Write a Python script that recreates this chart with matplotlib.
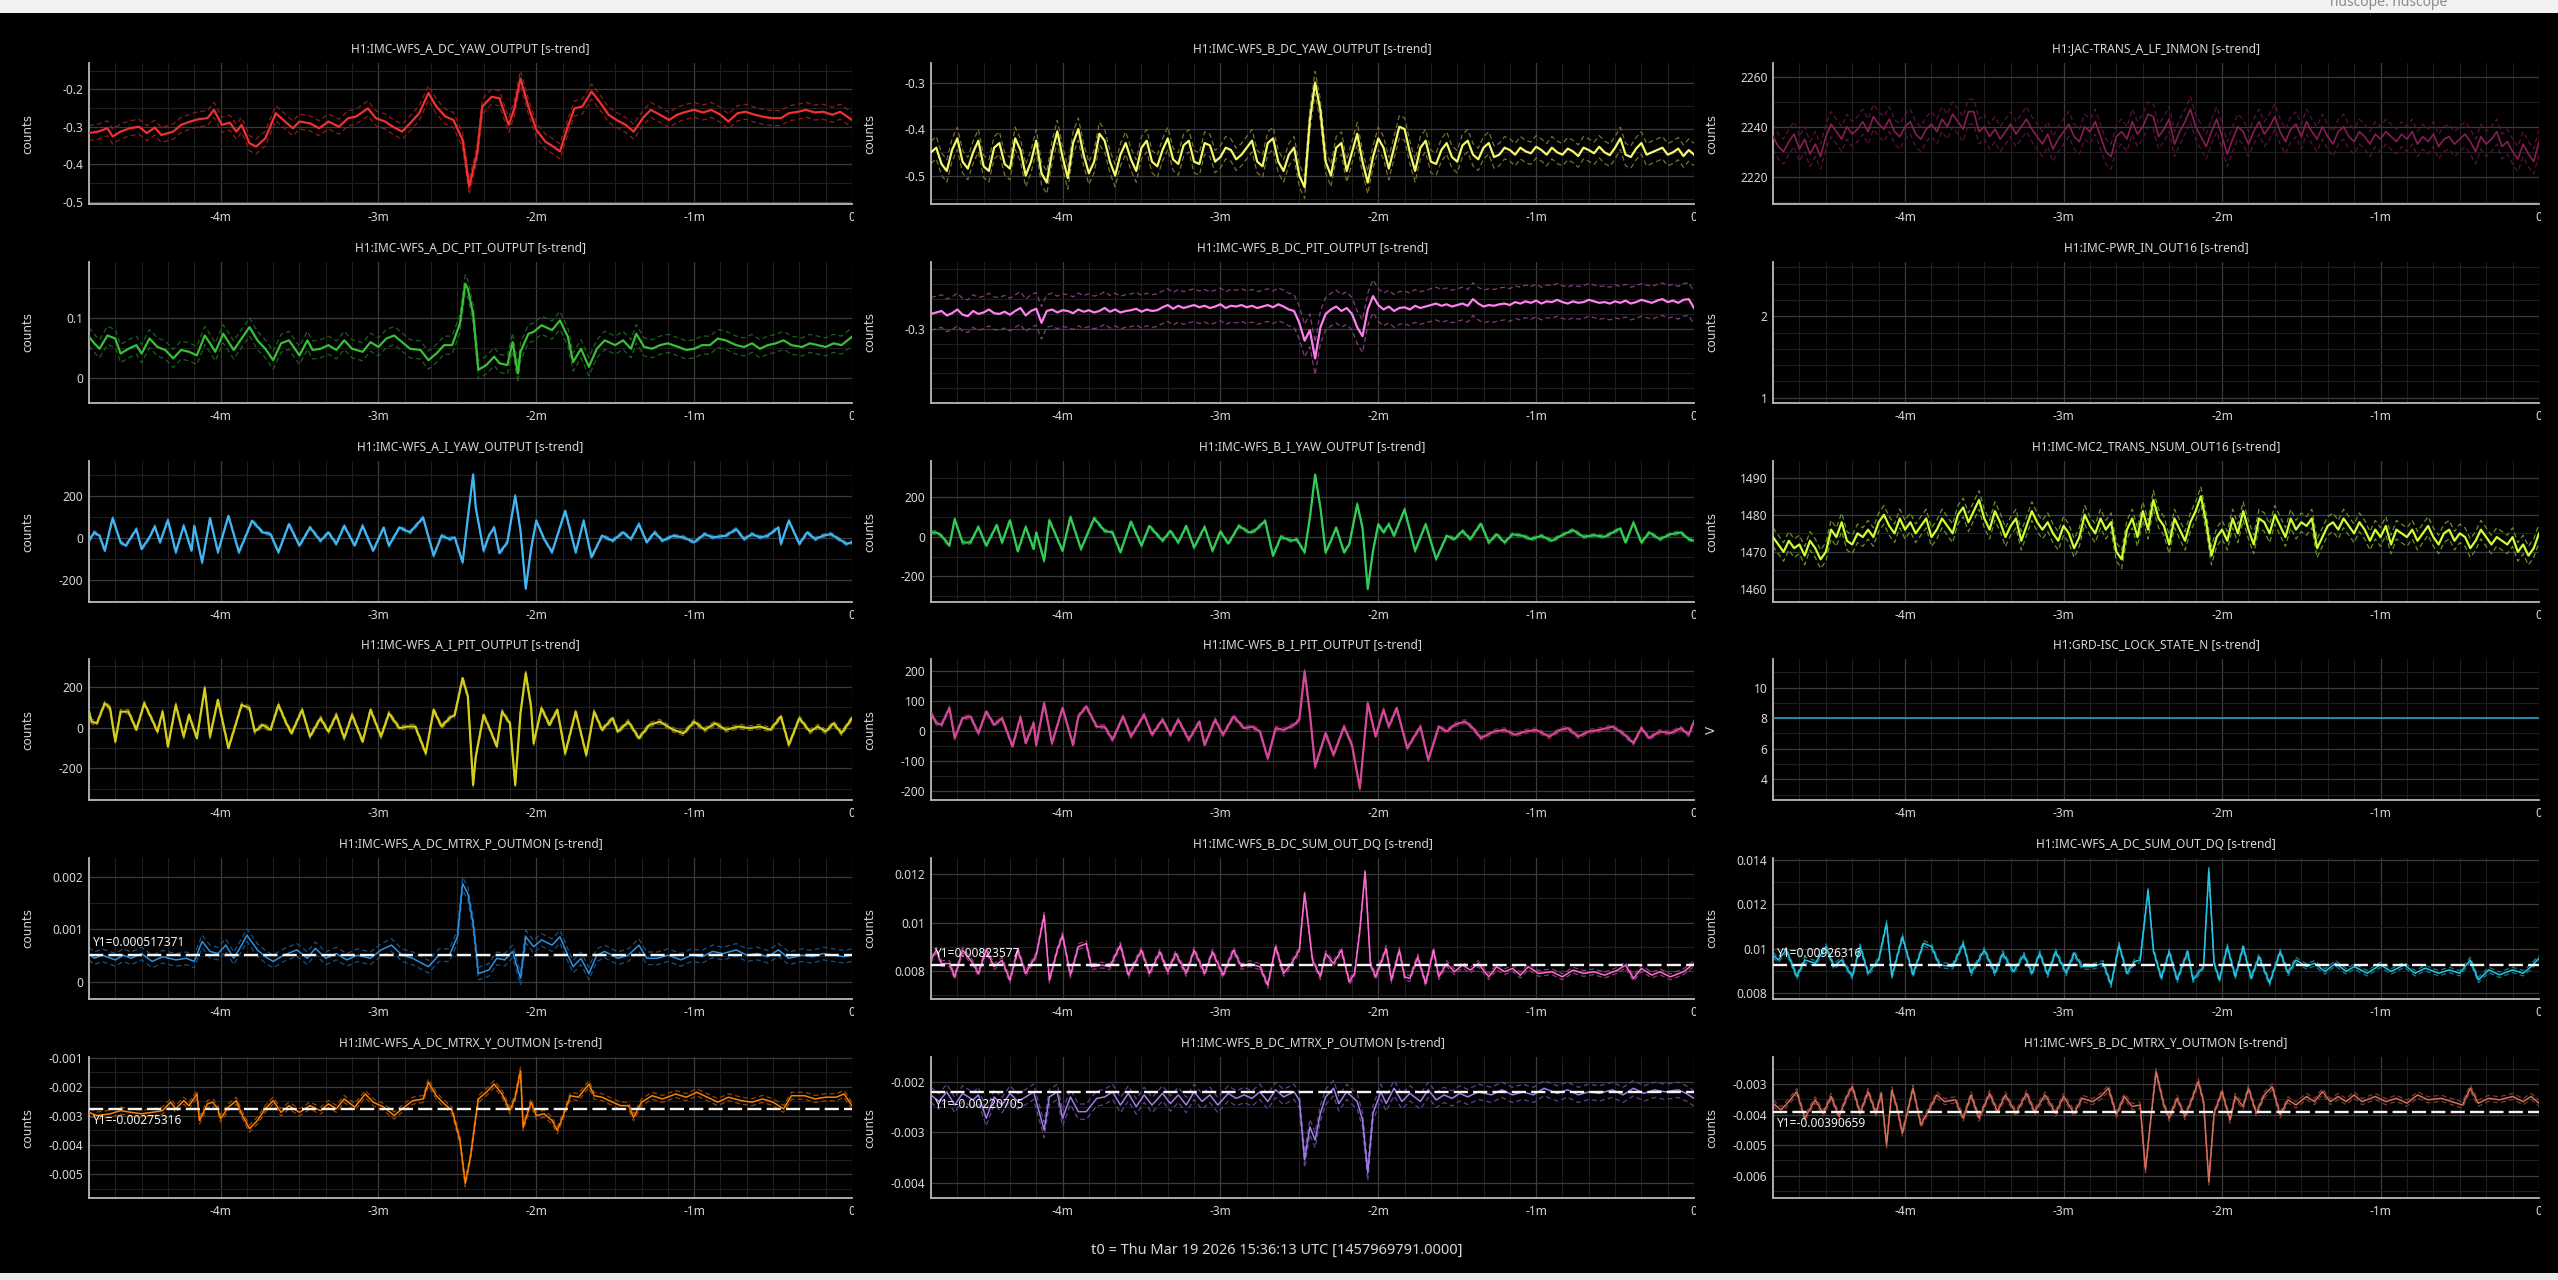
import numpy as np
import matplotlib
matplotlib.use("Agg")
import matplotlib.pyplot as plt
from matplotlib.ticker import MultipleLocator, FuncFormatter
from matplotlib.transforms import Bbox, TransformedBbox
from matplotlib.patches import Rectangle

plt.rcParams['font.family'] = ['Noto Sans', 'DejaVu Sans']

# ------------------------------------------------------------------ data
T_START, T_END = -290.0, 0.0
x_tick_values = [-240, -180, -120, -60, 0]
x_tick_labels = ['-4m', '-3m', '-2m', '-1m', '0']
t0_text = 't0 = Thu Mar 19 2026 15:36:13 UTC [1457969791.0000]'

# (time [s], value) samples, values in scaled units
a_dc_yaw = [(-290,-317),(-286.5,-313),(-283,-304),(-281,-326),(-278,-313),(-274.5,-304),(-271,-300),(-268,-317),(-265,-302),(-262.5,-322),(-258,-313),(-255,-295),(-251.5,-286),(-248.5,-280),(-245,-277),(-242.5,-255),(-239.5,-295),(-236.5,-289),(-234,-313),(-232,-295),(-229,-344),(-226.5,-353),(-223,-331),(-219,-264),(-215.5,-286),(-212.5,-304),(-210,-286),(-206,-291),(-202.5,-304),(-199,-286),(-195,-300),(-191.5,-277),(-188.5,-273),(-184,-251),(-181,-277),(-177.5,-286),(-174.5,-300),(-171,-313),(-168,-291),(-164.5,-264),(-161,-210),(-158,-246),(-154.5,-273),(-151.5,-282),(-148,-335),(-145.5,-460),(-142.5,-371),(-140.5,-246),(-137,-220),(-134,-224),(-130.5,-295),(-128.5,-255),(-126,-171),(-123,-246),(-120,-308),(-116.5,-340),(-113.5,-353),(-111,-366),(-108,-300),(-105.5,-251),(-102.5,-246),(-99,-206),(-96,-233),(-92.5,-268),(-89.5,-282),(-86,-295),(-83,-313),(-79.5,-277),(-76.5,-255),(-73,-268),(-69.5,-282),(-66.5,-268),(-63,-260),(-60,-255),(-56.5,-262),(-53.5,-255),(-50,-268),(-47,-286),(-43.5,-264),(-40.5,-260),(-37,-268),(-34,-273),(-30.5,-277),(-27,-277),(-24,-264),(-20.5,-260),(-17.5,-255),(-14,-262),(-11,-260),(-7.5,-268),(-4.5,-260),(0,-282)]

b_dc_yaw = [-450,-440,-475,-490,-445,-420,-470,-485,-450,-425,
            -480,-490,-440,-430,-475,-485,-420,-445,-500,-470,
            -425,-495,-515,-450,-405,-460,-505,-430,-400,-455,
            -495,-470,-410,-425,-470,-500,-455,-430,-465,-490,
            -440,-425,-470,-480,-445,-420,-465,-475,-435,-425,
            -470,-475,-430,-435,-470,-460,-440,-445,-465,-455,
            -440,-425,-470,-480,-430,-420,-470,-490,-455,-440,
            -500,-525,-380,-300,-360,-470,-500,-440,-430,-490,
            -450,-410,-470,-515,-460,-420,-440,-485,-440,-395,
            -400,-450,-490,-440,-425,-470,-475,-445,-430,-460,
            -470,-435,-425,-455,-465,-440,-430,-460,-455,-440,
            -445,-455,-440,-448,-452,-438,-445,-455,-440,-450,
            -455,-442,-448,-458,-440,-445,-452,-438,-450,-456,
            -440,-420,-455,-460,-442,-430,-455,-450,-445,-440,
            -455,-450,-442,-458,-445,-455]

jac_trans = [2236,2232,2230,2234,2237,2231,2235,2229,2233,2228,
             2236,2241,2238,2235,2240,2237,2239,2242,2238,2244,
             2241,2239,2243,2238,2236,2240,2242,2237,2235,2239,
             2241,2238,2243,2240,2245,2242,2239,2246,2246,2238,
             2240,2236,2239,2235,2238,2241,2237,2240,2243,2239,
             2236,2233,2237,2231,2235,2238,2241,2236,2234,2240,
             2238,2242,2236,2230,2228,2236,2238,2235,2242,2237,
             2240,2245,2244,2236,2239,2243,2233,2238,2242,2247,
             2240,2236,2232,2238,2243,2236,2229,2235,2240,2238,
             2233,2238,2242,2237,2240,2244,2238,2234,2239,2241,
             2236,2242,2238,2235,2240,2236,2233,2238,2240,2236,
             2234,2238,2236,2233,2237,2235,2238,2236,2234,2237,
             2235,2238,2233,2236,2234,2237,2232,2235,2236,2233,
             2235,2237,2234,2230,2236,2233,2235,2238,2232,2234,
             2230,2227,2233,2229,2226,2234]

a_dc_pit = [(-290,69),(-288,58),(-286,49),(-283,71),(-280,66),(-278,41),(-275,49),(-272,55),(-270,41),(-267,66),(-264,52),(-261,47),(-258,33),(-255,47),(-252,44),(-249,38),(-246,71),(-244,58),(-242,44),(-239,74),(-235,47),(-232,66),(-229,85),(-226,63),(-223,49),(-220,30),(-217,58),(-214,63),(-210,38),(-207,63),(-205,47),(-202,49),(-199,55),(-196,47),(-193,63),(-190,49),(-186,44),(-183,60),(-180,52),(-177,66),(-174,71),(-171,60),(-168,49),(-164,47),(-161,30),(-158,41),(-155,55),(-152,55),(-149,91),(-147,157),(-146,148),(-144,107),(-142,14),(-139,22),(-136,36),(-134,25),(-131,22),(-129,60),(-127,8),(-126,44),(-123,74),(-121,77),(-118,88),(-114,80),(-111,96),(-108,69),(-106,27),(-103,49),(-100,19),(-97,49),(-94,63),(-90,55),(-87,63),(-84,49),(-82,74),(-79,52),(-76,49),(-73,55),(-70,58),(-66,52),(-63,47),(-60,49),(-57,55),(-54,55),(-51,66),(-48,63),(-44,55),(-41,52),(-38,58),(-35,49),(-32,55),(-29,58),(-26,63),(-23,55),(-19,52),(-16,58),(-13,55),(-10,52),(-7,58),(-4,55),(0,69)]

b_dc_pit = [-2900,-2890,-2880,-2910,-2895,-2870,-2905,-2915,-2880,-2900,
            -2890,-2870,-2895,-2900,-2885,-2905,-2880,-2860,-2910,-2880,
            -2865,-2960,-2880,-2870,-2890,-2875,-2880,-2895,-2870,-2885,
            -2875,-2890,-2880,-2860,-2885,-2870,-2890,-2880,-2875,-2865,
            -2885,-2870,-2880,-2875,-2855,-2840,-2865,-2845,-2860,-2850,
            -2840,-2855,-2845,-2860,-2850,-2835,-2860,-2845,-2850,-2840,
            -2855,-2845,-2860,-2850,-2840,-2855,-2835,-2850,-2870,-2880,
            -2960,-3080,-3010,-3200,-2990,-2900,-2870,-2850,-2880,-2860,
            -2900,-2990,-3050,-2870,-2780,-2840,-2870,-2850,-2880,-2860,
            -2855,-2870,-2845,-2860,-2850,-2840,-2830,-2845,-2835,-2850,
            -2840,-2830,-2845,-2800,-2830,-2850,-2840,-2845,-2835,-2830,
            -2840,-2820,-2830,-2815,-2825,-2810,-2830,-2815,-2820,-2805,
            -2820,-2830,-2815,-2825,-2820,-2805,-2815,-2825,-2820,-2830,
            -2815,-2825,-2810,-2830,-2820,-2805,-2815,-2825,-2810,-2800,
            -2820,-2810,-2825,-2805,-2800,-2860]

a_i_yaw = [(-290,-13),(-288,27),(-286,11),(-284,-60),(-281,94),(-278,-20),(-276,-36),(-272,42),(-270,-52),(-267,3),(-265,55),(-263,-20),(-260,85),(-257,-67),(-254,58),(-251,-60),(-250,58),(-247,-115),(-244,94),(-241,-67),(-237,105),(-233,-67),(-228,82),(-224,27),(-221,19),(-218,-67),(-214,66),(-210,-36),(-206,50),(-202,-13),(-199,27),(-196,-28),(-193,58),(-189,-36),(-186,58),(-182,-60),(-178,50),(-176,-36),(-172,50),(-168,27),(-163,97),(-159,-83),(-156,11),(-153,-5),(-151,3),(-148,-115),(-146,97),(-144,301),(-143,144),(-140,-60),(-138,11),(-136,50),(-134,-72),(-131,-20),(-128,199),(-126,35),(-124,-240),(-122,-52),(-120,82),(-117,-5),(-114,-67),(-109,129),(-105,-67),(-102,82),(-99,-91),(-95,11),(-91,-13),(-87,27),(-84,-5),(-81,66),(-78,-20),(-75,27),(-72,-13),(-68,11),(-64,3),(-60,-20),(-56,19),(-53,3),(-48,11),(-44,42),(-41,-5),(-38,19),(-35,3),(-32,11),(-28,50),(-27,-28),(-24,82),(-20,-28),(-17,27),(-14,-5),(-11,11),(-8,19),(-5,-5),(-2,-28),(0,-20)]

b_i_yaw = [(-290,22),(-288,22),(-286,5),(-283,-45),(-281,89),(-278,-29),(-275,-29),(-272,50),(-269,-45),(-265,60),(-263,-29),(-260,84),(-257,-74),(-254,50),(-251,-62),(-250,22),(-247,-121),(-245,84),(-240,-71),(-237,101),(-233,-62),(-228,94),(-224,30),(-221,22),(-218,-79),(-214,77),(-210,-45),(-207,55),(-202,-20),(-199,30),(-196,-29),(-193,55),(-190,-54),(-186,50),(-183,-71),(-180,27),(-177,-34),(-173,55),(-169,22),(-167,30),(-163,81),(-160,-96),(-157,0),(-153,-20),(-151,-12),(-148,-79),(-146,97),(-144,316),(-142,148),(-140,-79),(-138,-20),(-136,47),(-133,-79),(-131,-37),(-128,165),(-126,47),(-124,-264),(-122,-71),(-120,64),(-118,22),(-116,64),(-114,5),(-110,139),(-106,-71),(-102,64),(-98,-113),(-94,5),(-91,-12),(-88,30),(-85,-12),(-81,67),(-78,-29),(-75,13),(-72,-29),(-69,13),(-65,5),(-62,-12),(-58,5),(-54,-20),(-50,10),(-46,34),(-42,0),(-38,8),(-34,0),(-28,42),(-26,-29),(-23,72),(-20,-29),(-17,22),(-13,-12),(-9,13),(-5,22),(-2,-12),(0,-20)]

pwr_in = []

mc2_trans = [1474,1472,1470,1473,1471,1472,1469,1473,1471,1468,
             1470,1476,1474,1478,1473,1472,1475,1474,1476,1474,
             1478,1480,1477,1475,1479,1476,1478,1475,1477,1479,
             1474,1476,1479,1477,1475,1480,1482,1478,1481,1484,
             1479,1476,1481,1478,1474,1477,1479,1473,1477,1481,
             1478,1476,1478,1475,1473,1477,1475,1471,1474,1480,
             1477,1475,1479,1476,1478,1470,1468,1476,1479,1474,
             1481,1476,1484,1479,1477,1472,1479,1476,1473,1478,
             1481,1485,1478,1469,1474,1476,1473,1479,1475,1481,
             1476,1472,1479,1478,1475,1480,1477,1474,1479,1476,
             1478,1477,1479,1471,1474,1477,1478,1476,1479,1477,
             1475,1478,1476,1473,1476,1474,1477,1472,1476,1475,
             1474,1476,1473,1475,1477,1474,1472,1475,1476,1473,
             1475,1474,1471,1473,1476,1474,1472,1474,1473,1472,
             1474,1470,1472,1469,1471,1475]

a_i_pit = [(-290,78),(-289,29),(-287,21),(-284,119),(-282,95),(-280,-69),(-278,78),(-275,78),(-272,-11),(-269,119),(-266,38),(-264,-20),(-262,78),(-260,-93),(-257,111),(-254,-44),(-252,62),(-249,-52),(-246,193),(-244,-44),(-241,136),(-237,-101),(-232,111),(-229,95),(-227,-20),(-224,13),(-221,-11),(-218,111),(-215,21),(-213,-28),(-209,87),(-206,-44),(-202,46),(-199,-20),(-196,62),(-193,-52),(-190,62),(-186,-69),(-183,87),(-179,-44),(-176,70),(-172,-3),(-169,5),(-166,5),(-162,-126),(-159,87),(-156,5),(-153,46),(-151,62),(-148,242),(-146,152),(-144,-281),(-143,-142),(-140,62),(-137,-28),(-135,-93),(-133,78),(-130,21),(-128,-281),(-126,70),(-124,266),(-122,103),(-121,-77),(-118,95),(-115,13),(-112,87),(-109,-126),(-105,78),(-101,-134),(-98,78),(-95,-11),(-91,46),(-89,-20),(-85,29),(-81,-52),(-77,13),(-73,29),(-68,-11),(-64,-28),(-60,29),(-56,-11),(-52,21),(-48,-11),(-43,5),(-39,-3),(-35,5),(-31,-11),(-27,54),(-24,-85),(-20,46),(-16,-20),(-13,5),(-10,-20),(-7,21),(-4,-28),(0,46)]

b_i_pit = [(-290,59),(-288,26),(-286,20),(-283,76),(-281,-24),(-278,42),(-275,48),(-272,-8),(-269,64),(-266,20),(-263,42),(-259,-52),(-256,46),(-254,-41),(-251,26),(-250,-47),(-247,92),(-244,-41),(-240,76),(-236,-47),(-234,48),(-231,81),(-227,14),(-224,14),(-221,-30),(-217,48),(-214,-19),(-209,53),(-206,-13),(-202,37),(-199,-13),(-196,37),(-192,-30),(-188,31),(-186,-47),(-182,37),(-179,-13),(-175,48),(-171,9),(-168,14),(-165,-2),(-162,-91),(-159,9),(-156,3),(-152,20),(-150,37),(-148,198),(-146,59),(-144,-119),(-140,-8),(-137,-80),(-133,14),(-130,-47),(-127,-191),(-124,92),(-121,-19),(-118,70),(-116,14),(-113,76),(-109,-58),(-104,14),(-101,-97),(-97,14),(-94,-2),(-91,20),(-87,31),(-84,9),(-81,-24),(-76,-2),(-72,3),(-68,-13),(-64,-2),(-60,3),(-55,-19),(-51,3),(-48,9),(-44,-19),(-40,-2),(-36,3),(-31,14),(-27,-8),(-23,-41),(-20,9),(-17,-24),(-13,-2),(-9,-8),(-5,9),(-2,-13),(0,31)]

grd_lock_state = [(-290, 8), (0, 8)]

a_dc_mtrx_p = [(-290,54),(-288,45),(-285,51),(-280,42),(-277,51),(-274,45),(-270,54),(-266,39),(-262,48),(-257,42),(-253,45),(-250,39),(-247,77),(-244,58),(-241,54),(-238,70),(-235,45),(-232,70),(-230,89),(-226,61),(-223,48),(-220,39),(-216,51),(-211,61),(-207,45),(-204,64),(-200,45),(-196,54),(-192,42),(-188,51),(-183,45),(-179,61),(-175,70),(-171,51),(-167,45),(-161,29),(-157,51),(-153,51),(-150,86),(-148,187),(-146,168),(-144,111),(-142,16),(-138,23),(-135,45),(-132,42),(-129,58),(-126,7),(-124,86),(-121,67),(-118,80),(-114,70),(-111,86),(-108,51),(-106,29),(-103,45),(-100,16),(-97,51),(-94,58),(-89,45),(-85,51),(-81,70),(-78,45),(-74,45),(-70,51),(-65,42),(-61,51),(-57,48),(-53,58),(-49,54),(-44,61),(-40,51),(-36,54),(-32,48),(-28,61),(-24,45),(-19,51),(-15,48),(-11,54),(-7,51),(-3,48),(0,51)]

b_dc_sum = [(-290,844),(-288,886),(-286,830),(-283,830),(-281,775),(-278,886),(-274,830),(-272,789),(-269,886),(-266,817),(-263,844),(-260,761),(-257,886),(-254,789),(-250,865),(-247,1031),(-245,761),(-242,886),(-240,948),(-237,782),(-234,900),(-231,913),(-229,817),(-225,824),(-222,817),(-218,907),(-215,782),(-210,886),(-207,789),(-203,879),(-200,796),(-197,872),(-193,789),(-190,886),(-186,789),(-183,879),(-179,782),(-175,886),(-172,817),(-169,830),(-165,817),(-162,740),(-159,900),(-156,789),(-153,830),(-150,886),(-148,1121),(-145,844),(-142,775),(-140,872),(-137,830),(-134,886),(-131,754),(-129,789),(-127,969),(-125,1211),(-123,830),(-121,775),(-117,893),(-115,761),(-112,886),(-110,775),(-108,768),(-105,858),(-102,747),(-99,886),(-97,775),(-94,830),(-91,796),(-88,824),(-85,803),(-82,830),(-78,775),(-75,817),(-72,796),(-69,810),(-66,782),(-63,817),(-59,789),(-54,796),(-50,775),(-46,803),(-42,789),(-38,796),(-34,782),(-29,803),(-26,824),(-23,768),(-20,810),(-16,782),(-13,796),(-9,775),(-4,796),(0,830)]

a_dc_sum = [(-290,973),(-288,950),(-285,995),(-281,875),(-278,950),(-274,935),(-270,1010),(-267,920),(-264,950),(-260,875),(-257,1010),(-254,890),(-250,950),(-247,1115),(-245,875),(-241,1055),(-237,883),(-233,1025),(-230,1010),(-227,928),(-222,920),(-218,1025),(-215,890),(-210,995),(-206,890),(-203,980),(-199,898),(-195,973),(-192,890),(-189,980),(-186,883),(-183,988),(-179,890),(-176,980),(-173,920),(-169,920),(-165,935),(-162,838),(-159,1018),(-156,890),(-153,943),(-151,950),(-148,1265),(-146,995),(-143,868),(-140,988),(-137,860),(-133,988),(-131,860),(-127,920),(-125,1355),(-123,935),(-121,860),(-118,1010),(-115,875),(-112,1010),(-109,868),(-106,965),(-102,845),(-98,988),(-95,890),(-92,950),(-88,920),(-85,935),(-81,898),(-77,935),(-73,898),(-70,920),(-65,890),(-60,928),(-56,898),(-51,928),(-47,890),(-43,913),(-38,890),(-34,905),(-30,890),(-26,950),(-23,860),(-19,905),(-15,883),(-10,905),(-6,890),(-3,920),(0,958)]

a_dc_mtrx_y = [(-290,-288),(-287,-299),(-282,-293),(-278,-282),(-274,-288),(-270,-293),(-266,-288),(-262,-282),(-259,-253),(-257,-276),(-254,-248),(-252,-265),(-249,-225),(-248,-316),(-245,-259),(-243,-253),(-241,-276),(-240,-310),(-237,-270),(-234,-248),(-232,-293),(-229,-344),(-226,-316),(-223,-276),(-220,-248),(-217,-288),(-214,-265),(-210,-288),(-206,-265),(-202,-282),(-199,-259),(-196,-276),(-193,-242),(-189,-270),(-185,-225),(-182,-253),(-178,-270),(-174,-299),(-171,-276),(-167,-248),(-163,-242),(-161,-185),(-158,-231),(-155,-259),(-152,-282),(-149,-384),(-147,-532),(-145,-441),(-143,-305),(-142,-242),(-139,-219),(-136,-191),(-133,-225),(-130,-282),(-128,-236),(-126,-145),(-125,-339),(-122,-253),(-120,-299),(-117,-293),(-114,-316),(-112,-350),(-110,-305),(-107,-231),(-104,-236),(-100,-191),(-98,-231),(-95,-236),(-91,-253),(-88,-265),(-85,-265),(-83,-305),(-80,-253),(-76,-231),(-72,-242),(-67,-225),(-63,-236),(-59,-219),(-55,-236),(-51,-253),(-47,-236),(-42,-248),(-38,-253),(-34,-242),(-30,-253),(-26,-276),(-23,-231),(-18,-231),(-14,-242),(-10,-236),(-6,-236),(-3,-225),(0,-265)]

b_dc_mtrx_p = [(-290,-226),(-287,-239),(-284,-220),(-281,-246),(-278,-223),(-274,-236),(-272,-226),(-269,-272),(-266,-230),(-263,-246),(-260,-223),(-257,-239),(-254,-230),(-251,-220),(-247,-295),(-245,-230),(-242,-220),(-240,-272),(-237,-230),(-234,-259),(-231,-259),(-227,-233),(-224,-230),(-221,-220),(-218,-246),(-215,-223),(-212,-249),(-209,-226),(-206,-246),(-202,-223),(-199,-243),(-196,-226),(-193,-246),(-190,-220),(-187,-239),(-184,-226),(-181,-246),(-177,-223),(-174,-233),(-171,-226),(-168,-233),(-165,-220),(-162,-239),(-159,-216),(-156,-230),(-152,-220),(-150,-236),(-148,-354),(-146,-289),(-144,-315),(-142,-262),(-140,-230),(-137,-213),(-135,-243),(-132,-220),(-128,-239),(-126,-275),(-124,-380),(-122,-262),(-119,-220),(-117,-243),(-114,-213),(-111,-239),(-108,-223),(-104,-239),(-101,-216),(-98,-236),(-95,-226),(-92,-233),(-89,-223),(-86,-230),(-82,-220),(-77,-226),(-73,-216),(-69,-226),(-65,-220),(-61,-226),(-57,-213),(-52,-223),(-48,-216),(-44,-226),(-40,-220),(-36,-223),(-31,-216),(-27,-226),(-23,-213),(-19,-223),(-15,-216),(-11,-220),(-6,-216),(-3,-223),(0,-233)]

b_dc_mtrx_y = [(-290,-363),(-287,-385),(-284,-358),(-281,-325),(-278,-412),(-274,-352),(-271,-396),(-268,-341),(-265,-407),(-262,-341),(-260,-309),(-257,-396),(-254,-325),(-251,-396),(-249,-331),(-247,-500),(-245,-320),(-243,-380),(-241,-461),(-237,-314),(-234,-434),(-231,-385),(-228,-336),(-225,-358),(-221,-352),(-218,-412),(-215,-336),(-212,-412),(-208,-331),(-205,-391),(-202,-336),(-198,-396),(-194,-331),(-191,-391),(-187,-336),(-183,-396),(-180,-341),(-176,-396),(-173,-347),(-169,-358),(-166,-341),(-163,-314),(-160,-401),(-157,-341),(-154,-374),(-151,-369),(-149,-581),(-147,-418),(-145,-260),(-142,-369),(-140,-412),(-137,-347),(-134,-407),(-131,-341),(-129,-292),(-127,-358),(-125,-620),(-123,-396),(-120,-325),(-117,-418),(-115,-341),(-112,-374),(-110,-314),(-107,-396),(-104,-336),(-101,-309),(-98,-401),(-95,-352),(-92,-369),(-88,-341),(-85,-358),(-82,-325),(-79,-358),(-76,-341),(-73,-358),(-70,-336),(-67,-358),(-62,-341),(-58,-358),(-54,-347),(-50,-363),(-46,-336),(-42,-352),(-37,-347),(-33,-358),(-29,-369),(-26,-314),(-23,-363),(-19,-347),(-15,-352),(-10,-341),(-6,-358),(-3,-341),(0,-363)]

# cursor (Y1) values
y1_a_dc_mtrx_p = 0.000517371
y1_b_dc_sum = 0.00823577
y1_a_dc_sum = 0.00926316
y1_a_dc_mtrx_y = -0.00275316
y1_b_dc_mtrx_p = -0.00220705
y1_b_dc_mtrx_y = -0.00390659

# ------------------------------------------------------------------ panel setup
panels = [
    # row 1
    dict(title='H1:IMC-WFS_A_DC_YAW_OUTPUT [s-trend]', data=a_dc_yaw, scale=1e-3, spread=0.02,
         color='#f23030', band='#8c1c1c', ylim=(-0.506, -0.13), major=0.1, minor=0.05),
    dict(title='H1:IMC-WFS_B_DC_YAW_OUTPUT [s-trend]', data=b_dc_yaw, scale=1e-3, spread=0.024,
         color='#f4f86a', band='#6f7230', ylim=(-0.561, -0.258), major=0.1, minor=0.05),
    dict(title='H1:JAC-TRANS_A_LF_INMON [s-trend]', data=jac_trans, scale=1, spread=5,
         color='#8a1d55', band='#5a1236', ylim=(2209, 2265.5), major=20, minor=10, lw=1.2),
    # row 2
    dict(title='H1:IMC-WFS_A_DC_PIT_OUTPUT [s-trend]', data=a_dc_pit, scale=1e-3, spread=0.015,
         color='#38c038', band='#1d5f1d', ylim=(-0.041, 0.193), major=0.1, minor=0.05),
    dict(title='H1:IMC-WFS_B_DC_PIT_OUTPUT [s-trend]', data=b_dc_pit, scale=1e-4, spread=0.011,
         color='#ff80ee', band='#7c3f7a', ylim=(-0.35, -0.255), major=0.1, minor=0.01),
    dict(title='H1:IMC-PWR_IN_OUT16 [s-trend]', data=pwr_in, scale=1, spread=0,
         color='#ffffff', band='#ffffff', ylim=(0.935, 2.667), major=1, minor=0.2),
    # row 3
    dict(title='H1:IMC-WFS_A_I_YAW_OUTPUT [s-trend]', data=a_i_yaw, scale=1, spread=8,
         color='#42b6f2', band='#1f5f85', ylim=(-303, 365), major=200, minor=100),
    dict(title='H1:IMC-WFS_B_I_YAW_OUTPUT [s-trend]', data=b_i_yaw, scale=1, spread=9,
         color='#34cc58', band='#1b6a2e', ylim=(-331, 385), major=200, minor=100),
    dict(title='H1:IMC-MC2_TRANS_NSUM_OUT16 [s-trend]', data=mc2_trans, scale=1, spread=2.5,
         color='#ccff33', band='#67902a', ylim=(1456.5, 1494.5), major=10, minor=5),
    # row 4
    dict(title='H1:IMC-WFS_A_I_PIT_OUTPUT [s-trend]', data=a_i_pit, scale=1, spread=11,
         color='#d6ce1c', band='#6e6a12', ylim=(-355, 336), major=200, minor=100),
    dict(title='H1:IMC-WFS_B_I_PIT_OUTPUT [s-trend]', data=b_i_pit, scale=1, spread=7,
         color='#d44898', band='#70264f', ylim=(-230, 239), major=100, minor=50),
    dict(title='H1:GRD-ISC_LOCK_STATE_N [s-trend]', data=grd_lock_state, scale=1, spread=0,
         color='#2a9cc0', band='#2a9cc0', ylim=(2.64, 11.88), major=2, minor=1, ylabel='V', lw=1.2),
    # row 5
    dict(title='H1:IMC-WFS_A_DC_MTRX_P_OUTMON [s-trend]', data=a_dc_mtrx_p, scale=1e-5, spread=0.00012,
         color='#2a92e2', band='#1a5082', ylim=(-0.000323, 0.002355), major=0.001, minor=0.0005,
         lw=1.1, y1=y1_a_dc_mtrx_p, y1_text='Y1=0.000517371', y1_above=True),
    dict(title='H1:IMC-WFS_B_DC_SUM_OUT_DQ [s-trend]', data=b_dc_sum, scale=1e-5, spread=0.00012,
         color='#ff6ad2', band='#8a3a74', ylim=(0.00683, 0.01268), major=0.002, minor=0.001,
         lw=1.1, y1=y1_b_dc_sum, y1_text='Y1=0.00823577', y1_above=True),
    dict(title='H1:IMC-WFS_A_DC_SUM_OUT_DQ [s-trend]', data=a_dc_sum, scale=1e-5, spread=0.00012,
         color='#22c6e8', band='#177a8e', ylim=(0.00774, 0.01409), major=0.002, minor=0.001,
         lw=1.1, y1=y1_a_dc_sum, y1_text='Y1=0.00926316', y1_above=True),
    # row 6
    dict(title='H1:IMC-WFS_A_DC_MTRX_Y_OUTMON [s-trend]', data=a_dc_mtrx_y, scale=1e-5, spread=0.00012,
         color='#ff8000', band='#8a4810', ylim=(-0.00582, -0.00098), major=0.001, minor=0.0005,
         lw=1.1, y1=y1_a_dc_mtrx_y, y1_text='Y1=-0.00275316', y1_above=False),
    dict(title='H1:IMC-WFS_B_DC_MTRX_P_OUTMON [s-trend]', data=b_dc_mtrx_p, scale=1e-5, spread=0.00015,
         color='#a47ce8', band='#574590', ylim=(-0.00429, -0.001514), major=0.001, minor=0.0005,
         lw=1.1, y1=y1_b_dc_mtrx_p, y1_text='Y1=-0.00220705', y1_above=False),
    dict(title='H1:IMC-WFS_B_DC_MTRX_Y_OUTMON [s-trend]', data=b_dc_mtrx_y, scale=1e-5, spread=0.0001,
         color='#d2705c', band='#7c3a30', ylim=(-0.00673, -0.00212), major=0.001, minor=0.0005,
         lw=1.1, y1=y1_b_dc_mtrx_y, y1_text='Y1=-0.00390659', y1_above=False),
]

# ------------------------------------------------------------------ layout
W, H = 2558, 1280
col_left_px = [89, 931, 1773]
col_width_px = [763, 763, 766]
row_bottom_px = [204, 403, 602, 800, 999, 1198]
ax_h_px = 141

fig = plt.figure(figsize=(W / 100, H / 100), dpi=100, facecolor='black')

TXT = '#d8d8d8'
FS = 8.6


def yfmt(v, pos):
    if abs(v) < 1e-12:
        return '0'
    return '{:g}'.format(round(v, 10))


for k, p in enumerate(panels):
    r, c = divmod(k, 3)
    left = col_left_px[c] / W
    bottom = 1 - row_bottom_px[r] / H
    ax = fig.add_axes([left, bottom, col_width_px[c] / W, ax_h_px / H])
    ax.set_facecolor('black')
    lw = p.get('lw', 1.6)

    d = p['data']
    if len(d) > 0:
        if isinstance(d[0], tuple):
            t = np.array([q[0] for q in d], float)
            v = np.array([q[1] for q in d], float) * p['scale']
        else:
            v = np.array(d, float) * p['scale']
            t = np.linspace(T_START, T_END, len(v))
        if p['spread'] > 0:
            ax.plot(t, v + p['spread'], color=p['band'], lw=0.9, dashes=(4, 2.5), zorder=2)
            ax.plot(t, v - p['spread'], color=p['band'], lw=0.9, dashes=(4, 2.5), zorder=2)
        ax.plot(t, v, color=p['color'], lw=lw, zorder=3, solid_joinstyle='round')

    if 'y1' in p:
        ax.axhline(p['y1'], color='#f4f4f4', lw=1.7, dashes=(6, 2.2), zorder=4)
        off = 4 if p['y1_above'] else -4
        ax.annotate(p['y1_text'], xy=(0, p['y1']), xycoords=('axes fraction', 'data'),
                    xytext=(3, off), textcoords='offset points', color='#f4f4f4',
                    fontsize=FS, va='bottom' if p['y1_above'] else 'top', ha='left', zorder=5)

    ax.set_xlim(T_START, T_END)
    ax.set_ylim(*p['ylim'])
    ax.set_xticks(x_tick_values)
    ax.set_xticklabels(x_tick_labels[:-1] + [''])
    ax.xaxis.set_minor_locator(MultipleLocator(10))
    ax.yaxis.set_major_locator(MultipleLocator(p['major']))
    ax.yaxis.set_minor_locator(MultipleLocator(p['minor']))
    ax.yaxis.set_major_formatter(FuncFormatter(yfmt))
    ax.set_axisbelow(True)
    ax.grid(which='major', color='#3b3b3b', lw=0.9)
    ax.grid(which='minor', color='#1e1e1e', lw=0.8)
    ax.tick_params(which='both', length=0, colors=TXT, labelsize=FS)
    ax.tick_params(axis='x', pad=5)
    ax.tick_params(axis='y', pad=4)
    for s in ('top', 'right'):
        ax.spines[s].set_visible(False)
    for s in ('left', 'bottom'):
        ax.spines[s].set_color('#b8b8b8')
        ax.spines[s].set_linewidth(1.3)

    ax.set_ylabel(p.get('ylabel', 'counts'), color=TXT, fontsize=FS,
                  family=['DejaVu Sans'])
    ax.yaxis.set_label_coords(-55 / col_width_px[c], 0.5)

    ax.text(0.5, 1 + 14 / ax_h_px, p['title'], transform=ax.transAxes,
            ha='center', va='center', color=TXT, fontsize=FS)

    # last "0" tick label, clipped at the right edge of the plot as in the reference
    right_px = col_left_px[c] + col_width_px[c]
    clip = TransformedBbox(Bbox.from_extents(0, 0, (right_px + 2) / W, 1), fig.transFigure)
    zero = fig.text(right_px / W, 1 - (row_bottom_px[r] + 7) / H, x_tick_labels[-1],
                    ha='center', va='top', color=TXT, fontsize=FS)
    zero.set_clip_box(clip)
    zero.set_clip_on(True)

fig.text(1277 / W, 1 - 1250 / H, t0_text, ha='center', va='center', color=TXT, fontsize=10.5)

# window chrome strips
fig.patches.append(Rectangle((0, 1 - 13 / H), 1, 13 / H, transform=fig.transFigure,
                             facecolor='#f2f2f2', edgecolor='none', zorder=0))
fig.patches.append(Rectangle((0, 0), 1, 7 / H, transform=fig.transFigure,
                             facecolor='#e8e8e8', edgecolor='none', zorder=0))
fig.text(2330 / W, 1 - 3 / H, 'ndscope: ndscope', ha='left', va='center',
         color='#8a8a8a', fontsize=10, fontweight='bold')

fig.savefig('out.png', dpi=100, facecolor='black')
